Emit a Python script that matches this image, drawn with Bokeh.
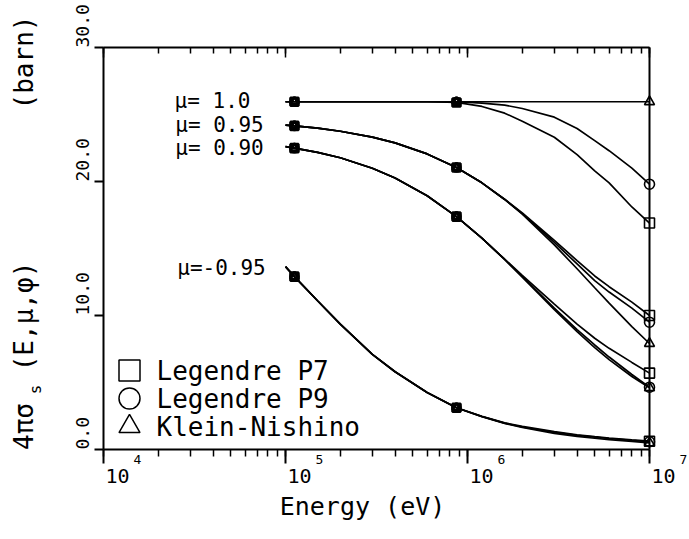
import math
from bokeh.plotting import figure
from bokeh.models import LogAxis, LinearAxis, LogTicker, FixedTicker, Label, Range1d
from bokeh.embed import file_html
from bokeh.resources import INLINE

# ---------------- data ----------------
energy = [1.0e5, 1.12e5, 1.5e5, 2.0e5, 3.0e5, 4.0e5, 6.0e5, 8.7e5, 1.2e6,
          1.6e6, 2.0e6, 3.0e6, 4.0e6, 5.0e6, 6.0e6, 8.0e6, 1.0e7]
marker_energy = [1.12e5, 8.7e5, 1.0e7]

# mu = 1.0
kn_mu_p100 = [25.95, 25.95, 25.95, 25.95, 25.95, 25.95, 25.95, 25.95, 25.95,
              25.95, 25.95, 25.95, 25.95, 25.95, 25.95, 25.95, 25.95]
p9_mu_p100 = [25.95, 25.95, 25.95, 25.95, 25.95, 25.95, 25.95, 25.95, 25.85,
              25.7, 25.45, 24.8, 23.95, 23.05, 22.3, 21.0, 19.8]
p7_mu_p100 = [25.95, 25.95, 25.95, 25.95, 25.95, 25.95, 25.95, 25.9, 25.6,
              25.1, 24.5, 23.3, 22.0, 20.8, 19.9, 18.1, 16.9]
# mu = 0.95
kn_mu_p095 = [24.21, 24.15, 23.98, 23.75, 23.31, 22.88, 22.06, 21.04, 19.9,
              18.66, 17.56, 15.27, 13.49, 12.07, 10.92, 9.17, 7.91]
p9_mu_p095 = [24.21, 24.15, 23.98, 23.75, 23.31, 22.88, 22.06, 21.04, 19.9,
              18.66, 17.6, 15.45, 13.85, 12.6, 11.75, 10.55, 9.5]
p7_mu_p095 = [24.21, 24.15, 23.98, 23.75, 23.31, 22.88, 22.06, 21.04, 19.9,
              18.68, 17.65, 15.6, 14.1, 12.95, 12.15, 11.0, 10.0]
# mu = 0.90
kn_mu_p090 = [22.6, 22.49, 22.17, 21.77, 20.99, 20.26, 18.94, 17.38, 15.78,
              14.18, 12.87, 10.44, 8.79, 7.6, 6.71, 5.45, 4.61]
p9_mu_p090 = [22.6, 22.49, 22.17, 21.77, 20.99, 20.26, 18.94, 17.38, 15.78,
              14.18, 12.9, 10.55, 8.95, 7.8, 6.9, 5.6, 4.65]
p7_mu_p090 = [22.6, 22.49, 22.17, 21.77, 20.99, 20.26, 18.94, 17.38, 15.78,
              14.2, 13.0, 10.85, 9.35, 8.3, 7.55, 6.5, 5.7]
# mu = -0.95
kn_mu_m095 = [13.65, 12.9, 11.1, 9.35, 7.1, 5.8, 4.25, 3.12, 2.45,
              1.95, 1.64, 1.2, 0.98, 0.84, 0.74, 0.6, 0.5]
p9_mu_m095 = [13.65, 12.9, 11.1, 9.35, 7.1, 5.8, 4.25, 3.12, 2.46,
              1.97, 1.68, 1.28, 1.06, 0.92, 0.82, 0.68, 0.58]
p7_mu_m095 = [13.65, 12.9, 11.1, 9.35, 7.1, 5.8, 4.25, 3.12, 2.47,
              1.99, 1.72, 1.33, 1.1, 0.96, 0.86, 0.72, 0.62]

mu_labels = ["μ= 1.0", "μ= 0.95", "μ= 0.90", "μ=-0.95"]
legend_labels = ["Legendre P7", "Legendre P9", "Klein-Nishino"]
legend_markers = ["square", "circle", "triangle"]
x_tick_exponents = [4, 5, 6, 7]
y_ticks = [0, 10, 20, 30]
y_tick_labels = ["0.0", "10.0", "20.0", "30.0"]
x_title = "Energy (eV)"
y_title_parts = ["4πσ", "s", "(E,μ,φ)", "(barn)"]

groups = [
    (p7_mu_p100, p9_mu_p100, kn_mu_p100),
    (p7_mu_p095, p9_mu_p095, kn_mu_p095),
    (p7_mu_p090, p9_mu_p090, kn_mu_p090),
    (p7_mu_m095, p9_mu_m095, kn_mu_m095),
]

# ---------------- layout ----------------
W, H = 689, 539
PL, PR, PT, PB = 103, 649, 47, 449     # plot box in pixels
XMIN, XMAX, YMIN, YMAX = 1e4, 1e7, 0.0, 30.0
FONT = "DejaVu Sans Mono"


def xd(px):
    lo, hi = math.log10(XMIN), math.log10(XMAX)
    return 10 ** (lo + (hi - lo) * (px - PL) / (PR - PL))


def yd(py):
    return YMIN + (YMAX - YMIN) * (PB - py) / (PB - PT)


p = figure(width=W, height=H, x_axis_type="log",
           x_range=Range1d(xd(0), xd(W)), y_range=Range1d(yd(H), yd(0)),
           x_axis_location=None, y_axis_location=None,
           output_backend="svg", toolbar_location=None, min_border=0)
p.xgrid.grid_line_color = None
p.ygrid.grid_line_color = None
p.outline_line_color = None
p.background_fill_color = "white"
p.border_fill_color = "white"

bottom = LogAxis(fixed_location=YMIN, bounds=(XMIN, XMAX),
                 ticker=LogTicker(num_minor_ticks=10))
bottom.axis_line_width = 2
bottom.major_tick_out = 14
bottom.major_tick_in = 0
bottom.minor_tick_out = 7
bottom.minor_tick_in = 0
bottom.major_tick_line_width = 2
bottom.minor_tick_line_width = 1.5
bottom.major_label_text_color = None
p.add_layout(bottom, "below")

top = LogAxis(fixed_location=YMAX, bounds=(XMIN, XMAX),
              ticker=LogTicker(num_minor_ticks=10))
top.axis_line_width = 2
top.major_tick_in = 10
top.major_tick_out = 0
top.minor_tick_in = 6
top.minor_tick_out = 0
top.major_tick_line_width = 1.5
top.minor_tick_line_width = 1.5
top.major_label_text_color = None
p.add_layout(top, "above")

left = LinearAxis(fixed_location=XMIN, bounds=(YMIN, YMAX),
                  ticker=FixedTicker(ticks=y_ticks, minor_ticks=[]))
left.axis_line_width = 2
left.major_tick_out = 9
left.major_tick_in = 0
left.major_tick_line_width = 2
left.minor_tick_line_color = None
left.major_label_text_color = None
p.add_layout(left, "left")

right = LinearAxis(fixed_location=XMAX, bounds=(YMIN, YMAX),
                   ticker=FixedTicker(ticks=[], minor_ticks=[]))
right.axis_line_width = 2
right.major_tick_line_color = None
right.minor_tick_line_color = None
right.major_label_text_color = None
p.add_layout(right, "right")

# ---------------- curves ----------------
idx = [energy.index(e) for e in marker_energy]
for series in groups:
    for vals in series:
        p.line(energy, vals, line_color="black", line_width=1.7)
    for vals, mk in zip(series, legend_markers):
        # the two lower energies: markers overlap and read as solid blobs
        p.scatter([energy[i] for i in idx[:2]], [vals[i] for i in idx[:2]],
                  marker=mk, size=8, line_color="black", line_width=2.6,
                  fill_color=None)
        p.scatter([energy[idx[2]]], [vals[idx[2]]],
                  marker=mk, size=10, line_color="black", line_width=1.6,
                  fill_color=None)


# ---------------- texts ----------------
def label(x, y, text, size, align="left", baseline="middle", angle=0.0,
          x_offset=0):
    p.add_layout(Label(x=x, y=y, text=text, text_font=FONT,
                       text_font_size=f"{size}px", text_align=align,
                       text_baseline=baseline, angle=angle,
                       x_offset=x_offset, text_color="black"))


# mu labels
mu_pos = [(212, 100), (219, 124), (219, 147), (221, 267)]
for txt, (cx, cy) in zip(mu_labels, mu_pos):
    label(xd(cx), yd(cy), txt, 21, align="center")

# legend
leg_rows = [370, 398, 426]
p.scatter([xd(129)] * 3, [yd(r) for r in leg_rows], marker=legend_markers,
          size=21, line_color="black", line_width=1.5, fill_color=None)
for txt, r in zip(legend_labels, leg_rows):
    label(xd(156), yd(r), txt, 26)

# x tick labels
for e in x_tick_exponents:
    label(10 ** e, yd(475), "10", 20, x_offset=2)
    label(10 ** e, yd(459), str(e), 13, x_offset=30)

# y tick labels
for v, t in zip(y_ticks, y_tick_labels):
    label(xd(82), v, t, 18, angle=math.pi / 2)

# axis titles
label(xd(362), yd(506), x_title, 25, align="center")
label(xd(23), yd(426), y_title_parts[0], 26, align="center", angle=math.pi / 2)
label(xd(35), yd(389), y_title_parts[1], 16, align="center", angle=math.pi / 2)
label(xd(23), yd(316), y_title_parts[2], 26, align="center", angle=math.pi / 2)
label(xd(23), yd(62), y_title_parts[3], 26, align="center", angle=math.pi / 2)

open("out.html", "w").write(file_html(p, INLINE))
